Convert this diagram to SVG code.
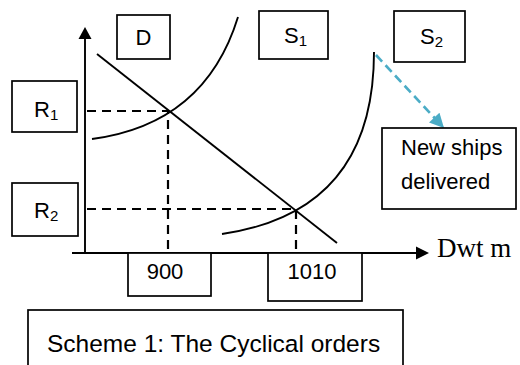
<svg xmlns="http://www.w3.org/2000/svg" width="520" height="365" viewBox="0 0 520 365">
<style>
.box{fill:#fff;stroke:#000;stroke-width:1.7}
.t{font-family:"Liberation Sans",Arial,sans-serif;fill:#000}
.ln{fill:none;stroke:#000;stroke-width:1.9}
.dash{fill:none;stroke:#000;stroke-width:2.2;stroke-dasharray:9,6}
</style>
<defs>
<marker id="blueHead" viewBox="0 0 10 10" refX="9" refY="5" markerWidth="6" markerHeight="5.5" orient="auto" markerUnits="strokeWidth">
<path d="M0,0 L10,5 L0,10 z" fill="#4BACC6"/>
</marker>
</defs>
<rect width="520" height="365" fill="#fff"/>
<g id="connectors">
<line class="ln" x1="85" y1="253" x2="85" y2="38"/>
<polygon points="85,27 78.5,39 91.5,39" fill="#000"/>
<line class="ln" x1="72" y1="253" x2="417" y2="253"/>
<polygon points="429,253 416,246.5 416,259.5" fill="#000"/>
<line class="ln" x1="97" y1="54" x2="337" y2="243"/>
<path class="ln" d="M92,139 Q205,124 238,17"/>
<path class="ln" d="M222,234 Q374,212 374,52"/>
<polyline class="dash" points="87,111 168,111 168,252"/>
<polyline class="dash" points="87,209 296,209 296,252"/>
<line x1="376" y1="55" x2="443" y2="127" stroke="#4BACC6" stroke-width="2.6" stroke-dasharray="9,5" marker-end="url(#blueHead)"/>
</g>
<g id="D"><rect class="box" x="117" y="15" width="53" height="44"/><text class="t" x="143.5" y="45" font-size="22" text-anchor="middle">D</text></g>
<g id="S1"><rect class="box" x="259" y="11" width="69" height="48"/><text class="t" x="284" y="43" font-size="22">S<tspan font-size="15" dy="3">1</tspan></text></g>
<g id="S2"><rect class="box" x="394" y="11" width="71" height="51"/><text class="t" x="420" y="44" font-size="22">S<tspan font-size="15" dy="3">2</tspan></text></g>
<g id="R1"><rect class="box" x="12" y="81" width="65" height="51"/><text class="t" x="34" y="117" font-size="22">R<tspan font-size="15" dy="3">1</tspan></text></g>
<g id="R2"><rect class="box" x="12" y="183" width="66" height="53"/><text class="t" x="34" y="218" font-size="22">R<tspan font-size="15" dy="3">2</tspan></text></g>
<g id="n900"><rect class="box" x="128" y="253" width="83" height="43"/><text class="t" x="165" y="279" font-size="22" text-anchor="middle">900</text></g>
<g id="n1010"><rect class="box" x="268" y="253" width="94" height="48"/><text class="t" x="312" y="279" font-size="22" text-anchor="middle">1010</text></g>
<g id="newships"><rect class="box" x="382" y="128" width="134" height="81"/><text class="t" x="401" y="155" font-size="22">New ships</text><text class="t" x="401" y="189" font-size="22">delivered</text></g>
<g id="axislabel"><text x="437" y="257" font-family="Liberation Serif,'Times New Roman',serif" font-size="27">Dwt m</text></g>
<g id="caption"><rect class="box" x="28" y="310" width="375" height="70"/><text class="t" x="47" y="352" font-size="24.5">Scheme 1: The Cyclical orders</text></g>
</svg>
